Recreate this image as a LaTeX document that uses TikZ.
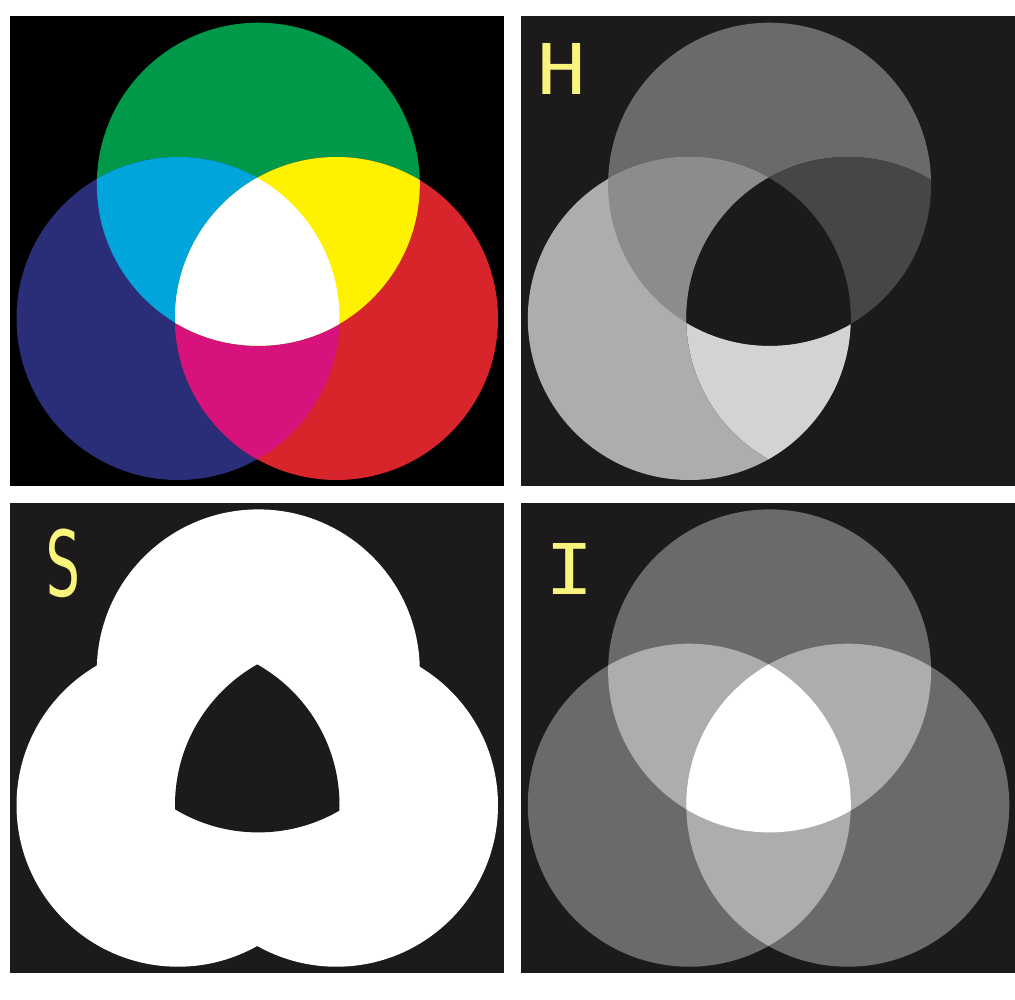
\documentclass[tikz,border=0pt]{standalone}
\usepackage{fontspec}
\newfontfamily\hand{DejaVu Sans Mono}
\definecolor{panelbg}{RGB}{28,26,27}
\definecolor{cgreen}{RGB}{0,153,74}
\definecolor{cblue}{RGB}{42,46,120}
\definecolor{cred}{RGB}{216,36,43}
\definecolor{ccyan}{RGB}{0,166,219}
\definecolor{cyellow}{RGB}{255,242,0}
\definecolor{cmagenta}{RGB}{216,18,124}
\definecolor{gA}{RGB}{106,106,106}
\definecolor{gB}{RGB}{173,173,173}
\definecolor{gAB}{RGB}{140,140,140}
\definecolor{gAC}{RGB}{70,70,70}
\definecolor{gBC}{RGB}{211,211,211}
\definecolor{handyellow}{RGB}{249,245,124}
% #1 top, #2 left, #3 right, #4 top&left, #5 top&right, #6 left&right, #7 all three
\newcommand\vennpanel[7]{%
  \fill[#1] (258.3,184.2) circle[radius=161.5];
  \fill[#2] (178,318.5) circle[radius=161.5];
  \fill[#3] (336.5,318.5) circle[radius=161.5];
  \begin{scope}
    \clip (178,318.5) circle[radius=161.5];
    \fill[#6] (336.5,318.5) circle[radius=161.5];
  \end{scope}
  \begin{scope}
    \clip (258.3,184.2) circle[radius=161.5];
    \fill[#4] (178,318.5) circle[radius=161.5];
    \fill[#5] (336.5,318.5) circle[radius=161.5];
    \clip (178,318.5) circle[radius=161.5];
    \fill[#7] (336.5,318.5) circle[radius=161.5];
  \end{scope}}
\tikzset{
  letter/.style={text=handyellow, inner sep=0pt, font=\hand\fontsize{70}{70}\selectfont}
}
\begin{document}
\begin{tikzpicture}[x=1pt,y=-1pt]
\useasboundingbox (0,0) rectangle (1015,1000);
\fill[white] (0,0) rectangle (1015,1000);
% panel backgrounds
\fill[black] (10,15.7) rectangle (504,485.8);
\fill[panelbg] (521,15.7) rectangle (1015,485.8);
\fill[panelbg] (10,503) rectangle (504,972.7);
\fill[panelbg] (521,503) rectangle (1015,972.7);
% RGB
\begin{scope}
  \vennpanel{cgreen}{cblue}{cred}{ccyan}{cyellow}{cmagenta}{white}
\end{scope}
% H
\begin{scope}[shift={(511.3,0)}]
  \vennpanel{gA}{gB}{panelbg}{gAB}{gAC}{gBC}{panelbg}
\end{scope}
% S
\begin{scope}[shift={(0,486.7)}]
  \vennpanel{white}{white}{white}{white}{white}{white}{panelbg}
\end{scope}
% I
\begin{scope}[shift={(511.3,486.7)}]
  \vennpanel{gA}{gA}{gA}{gB}{gB}{gB}{white}
\end{scope}
% labels
\node[letter, xscale=1.15] (H) at (562,69) {H};
\node[letter, xscale=0.85, yscale=1.3] (S) at (63,563) {S};
\node[letter, xscale=1.15] (I) at (570,569) {I};
\end{tikzpicture}
\end{document}
